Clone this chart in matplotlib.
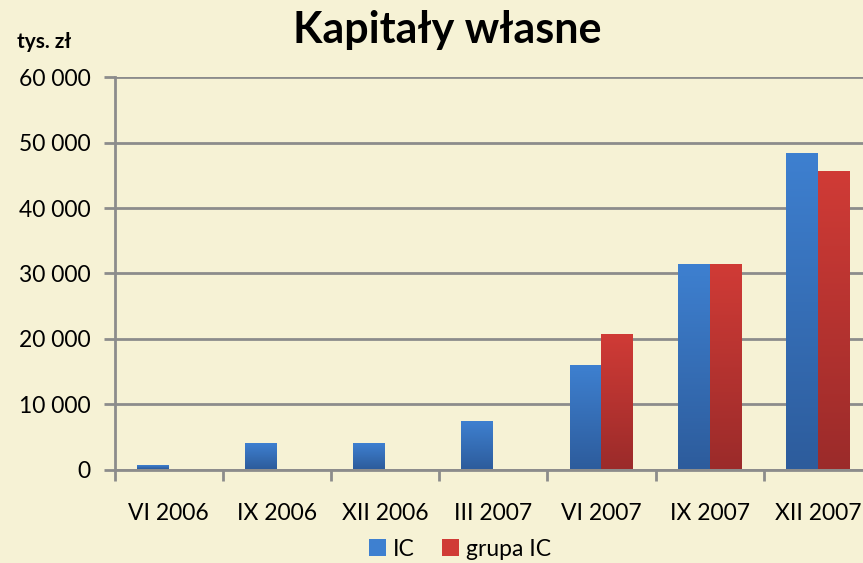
import matplotlib.pyplot as plt
import numpy as np
from matplotlib.colors import LinearSegmentedColormap
from matplotlib.patches import Patch

categories = ['VI 2006', 'IX 2006', 'XII 2006', 'III 2007', 'VI 2007', 'IX 2007', 'XII 2007']
ic = [600, 3900, 3900, 7250, 15900, 31350, 48300]
grupa_ic = [0, 0, 0, 0, 20500, 31350, 45550]

bg = '#f6f2d5'
blue_top, blue_bot = '#3e80d0', '#2d5c9c'
red_top, red_bot = '#d03b36', '#9b2b2a'

plt.rcParams['font.family'] = ['Lato', 'DejaVu Sans']

fig = plt.figure(figsize=(8.63, 5.63), dpi=100, facecolor=bg)
ax = fig.add_axes([114.5 / 863, 1 - 469.5 / 563, (872 - 114.5) / 863, (469.5 - 77.3) / 563])
ax.set_facecolor(bg)

x = np.arange(len(categories))
w = 0.295


def gradient_bars(xs, vals, top, bot):
    cmap = LinearSegmentedColormap.from_list('g', [bot, top])
    grad = np.linspace(0, 1, 256).reshape(-1, 1)
    for xi, v in zip(xs, vals):
        if v <= 0:
            continue
        ax.imshow(grad, cmap=cmap, origin='lower', aspect='auto',
                  extent=(xi - w / 2, xi + w / 2, 0, v), zorder=3)


gradient_bars(x - w / 2, ic, blue_top, blue_bot)
gradient_bars(x + w / 2, grupa_ic, red_top, red_bot)

ax.set_xlim(-0.5, len(categories) - 0.5)
ax.set_ylim(0, 60000)
ax.set_yticks(range(0, 60001, 10000))
ax.set_yticklabels([f'{v:,}'.replace(',', ' ') for v in range(0, 60001, 10000)])
ax.set_xticks(x)
ax.set_xticklabels(categories)
ax.set_xticks(np.arange(-0.5, len(categories), 1), minor=True)
ax.tick_params(axis='x', which='major', length=0, pad=24, labelsize=16.5)
ax.tick_params(axis='x', which='minor', length=8, width=2, color='#8c8c8c')
ax.tick_params(axis='y', length=8, width=2, color='#8c8c8c', labelsize=16.5, pad=9)
ax.grid(axis='y', color='#8c8c8c', linewidth=2, zorder=1)
ax.set_axisbelow(True)
for s in ['top', 'right']:
    ax.spines[s].set_visible(False)
for s in ['left', 'bottom']:
    ax.spines[s].set_color('#8c8c8c')
    ax.spines[s].set_linewidth(2)

fig.text(447 / 863, 1 - 30 / 563, 'Kapitały własne', ha='center', va='center',
         fontsize=31, fontweight='bold')
fig.text(17 / 863, 1 - 42 / 563, 'tys. zł', ha='left', va='center',
         fontsize=15, fontweight='bold')

handles = [Patch(facecolor=blue_top, label='IC'), Patch(facecolor=red_top, label='grupa IC')]
fig.legend(handles=handles, loc='center', bbox_to_anchor=(460 / 863, 1 - 549 / 563),
           ncol=2, frameon=False, fontsize=16.5, handlelength=0.75, handleheight=0.75,
           handletextpad=0.3, columnspacing=1.2)

fig.savefig('out.png', dpi=100, facecolor=bg)
